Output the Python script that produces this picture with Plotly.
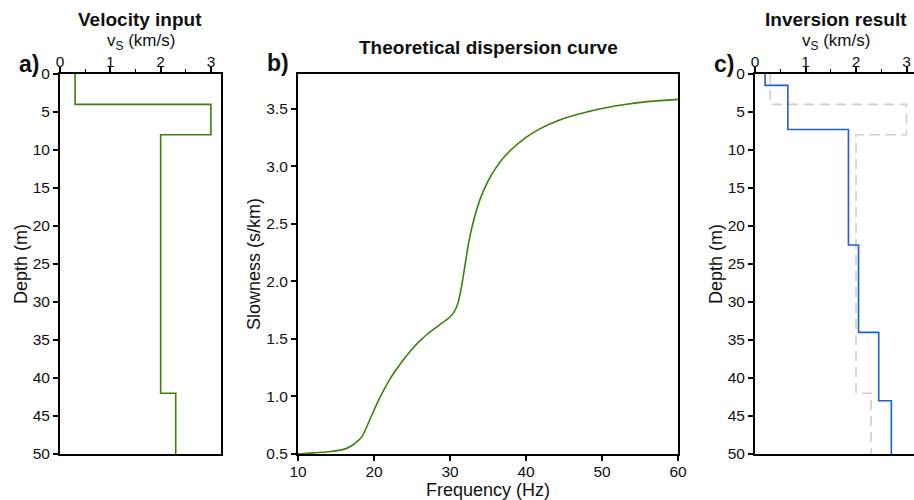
import plotly.graph_objects as go

# ---- data ----
input_layer_tops = [0, 4, 8, 42]
input_vs = [0.3, 3.0, 2.0, 2.3]
model_bottom = 50

inv_layer_tops = [0, 1.5, 7.3, 22.5, 34, 43]
inv_vs = [0.2, 0.65, 1.85, 2.05, 2.45, 2.7]

freq = [10, 12, 14, 16, 17, 18, 18.5, 19, 20, 21, 22, 23, 24, 25, 26, 27, 28, 29, 30,
        30.5, 31, 31.5, 32, 32.5, 33, 34, 35, 36, 37, 38, 40, 42, 44, 46, 48,
        50, 53, 56, 60]
slowness = [0.50, 0.51, 0.52, 0.54, 0.57, 0.62, 0.66, 0.73, 0.88, 1.02, 1.14, 1.24,
            1.33, 1.41, 1.48, 1.54, 1.59, 1.64, 1.69, 1.73, 1.80, 1.95, 2.15,
            2.35, 2.50, 2.72, 2.87, 2.98, 3.07, 3.14, 3.25, 3.33, 3.39, 3.435,
            3.47, 3.50, 3.535, 3.56, 3.58]

vs_ticks = [0, 1, 2, 3]
depth_ticks = [0, 5, 10, 15, 20, 25, 30, 35, 40, 45, 50]
freq_ticks = [10, 20, 30, 40, 50, 60]
slow_ticks = [0.5, 1.0, 1.5, 2.0, 2.5, 3.0, 3.5]

GREEN = "#3f7f0c"
BLUE = "#1f5fcc"
GRAY = "#cfcfcf"
FONT = "Liberation Sans, Arial, sans-serif"

W, H = 914, 500

def px_x(p):
    return p / W

def px_y(p):
    return 1 - p / H

fig = go.Figure()

fig.add_trace(go.Scatter(
    x=input_vs + [input_vs[-1]], y=input_layer_tops + [model_bottom],
    mode="lines", line=dict(color=GREEN, width=1.6, shape="vh"),
    xaxis="x", yaxis="y", showlegend=False))

fig.add_trace(go.Scatter(
    x=freq, y=slowness, mode="lines",
    line=dict(color=GREEN, width=1.6, shape="spline", smoothing=1.0),
    xaxis="x2", yaxis="y2", showlegend=False))

fig.add_trace(go.Scatter(
    x=input_vs + [input_vs[-1]], y=input_layer_tops + [model_bottom],
    mode="lines", line=dict(color=GRAY, width=1.6, shape="vh", dash="10px,6px"),
    xaxis="x3", yaxis="y3", showlegend=False))

fig.add_trace(go.Scatter(
    x=inv_vs + [inv_vs[-1]], y=inv_layer_tops + [model_bottom],
    mode="lines", line=dict(color=BLUE, width=1.6, shape="vh"),
    xaxis="x3", yaxis="y3", showlegend=False))

ydom = [px_y(454), px_y(74)]
tickfont = dict(family=FONT, size=15.5, color="#111")

common_ax = dict(showgrid=False, zeroline=False, showline=True, linecolor="black",
                 linewidth=2, ticks="outside", ticklen=5, tickwidth=1.5,
                 tickcolor="black", tickfont=tickfont, automargin=False)

vs_axis = dict(common_ax, side="top", tickvals=vs_ticks, mirror=True,
               ticklabelstandoff=-6,
               minor=dict(ticks="outside", ticklen=3, tickwidth=1, dtick=0.5,
                          tick0=0, tickcolor="black"))
depth_axis = dict(common_ax, range=[model_bottom, 0], tickvals=depth_ticks,
                  domain=ydom)

fig.update_layout(
    width=W, height=H, margin=dict(l=0, r=0, t=0, b=0),
    plot_bgcolor="white", paper_bgcolor="white",
    font=dict(family=FONT, color="#111"),
    xaxis=dict(vs_axis, domain=[px_x(60), px_x(221)], range=[0, 3.2],
               anchor="y"),
    yaxis=dict(depth_axis, anchor="x", mirror=True),
    xaxis2=dict(common_ax, domain=[px_x(298), px_x(678)], range=[10, 60],
                tickvals=freq_ticks, anchor="y2", mirror=True,
                ticklabelstandoff=-3),
    yaxis2=dict(common_ax, domain=ydom, range=[0.5, 3.8], tickvals=slow_ticks,
                tickformat=".1f", anchor="x2", mirror=True),
    xaxis3=dict(vs_axis, domain=[px_x(755), 1.0], range=[0, (W - 755) / 50.5],
                anchor="y3"),
    yaxis3=dict(depth_axis, anchor="x3", mirror=False),
)

ann = []
def add(text, x, y, size, bold=False, angle=0):
    ann.append(dict(text=f"<b>{text}</b>" if bold else text, x=px_x(x), y=px_y(y),
                    xref="paper", yref="paper", showarrow=False,
                    xanchor="center", yanchor="middle", textangle=angle,
                    font=dict(family=FONT, size=size, color="#111")))

add("Velocity input", 140, 19, 19, bold=True)
add("v<sub>S</sub> (km/s)", 141, 42, 17)
add("Theoretical dispersion curve", 488, 48, 19, bold=True)
add("Inversion result", 836, 19, 19, bold=True)
add("v<sub>S</sub> (km/s)", 836, 42, 17)
add("a)", 29, 64, 23, bold=True)
add("b)", 278, 63, 23, bold=True)
add("c)", 724, 64, 23, bold=True)
add("Depth (m)", 21, 264, 18, angle=-90)
add("Depth (m)", 716, 264, 18, angle=-90)
add("Slowness (s/km)", 254, 264, 18, angle=-90)
add("Frequency (Hz)", 488, 490, 18)

fig.update_layout(annotations=ann)

fig.write_html("out.html")
